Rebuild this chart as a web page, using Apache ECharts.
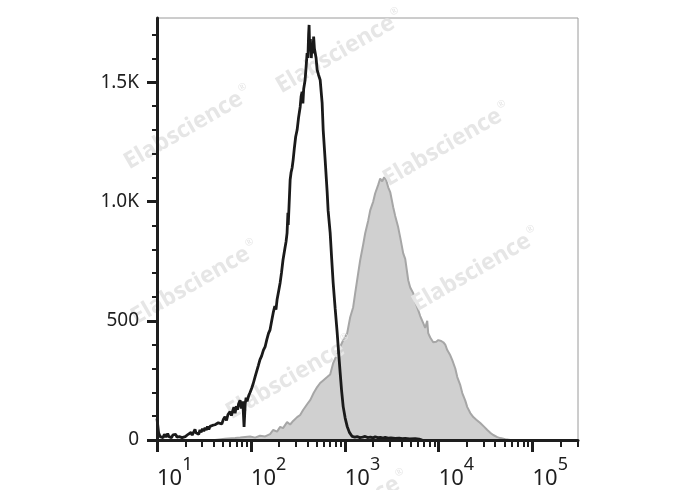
<!DOCTYPE html>
<html>
<head>
<meta charset="utf-8">
<script src="https://cdn.jsdelivr.net/npm/echarts@6/dist/echarts.min.js"></script>
<style>html,body{margin:0;padding:0;background:#fff;}#c{width:688px;height:490px;}</style>
</head>
<body>
<div id="c"></div>
<script>
// Fluorescence value (x) and event count (y) pairs
const isotypeX = [10,10.4,10.8,11.2,11.6,12,12.5,13,13.4,13.8,14.3,14.8,15.2,15.8,16.3,16.7,17.3,18,18.5,19.2,20,20.9,21.5,22,23,23.7,24.5,25.4,26,27,27.8,28.7,29.5,30.5,31.5,32.5,33.5,34.5,35.6,36.7,38,39.5,41.5,43,45,47,49,51,53,55,57,60,62,64,66,67.9,70,72,74,76.7,79,82,84.6,87,89,91.1,95,98,102,106,111,115,120,125,130,136,142,148,154,160,167,173,180,185,190,197,205,212,220,230,237,243,248,250,255,262,268,275,282,290,300,311,322,335,343,351,358,365,378,387,397,405,412,417,422,430,440,449,458,466,475,483,495,508,525,547,574,589,618,649,665,699,725,752,790,830,862,893,925,962,1010,1061,1120,1199,1280,1356,1450,1550,1650,1750,1880,2000,2109,2250,2400,2550,2696,2900,3100,3445,3800,4100,4404,4900,5627,6200,6683];
const isotypeY = [90,30,14,22,10,24,12,27,14,20,10,22,16,24,12,20,14,22,10,17,14,20,24,17,32,20,27,45,30,37,24,42,32,47,37,52,42,57,44,57,50,62,64,57,72,77,67,87,97,82,107,119,102,122,137,112,142,127,152,167,132,162,55,152,177,162,187,199,217,237,266,287,312,337,352,377,392,422,447,462,502,534,562,547,588,622,660,702,756,802,832,869,953,902,982,1092,1122,1142,1175,1222,1272,1301,1352,1397,1442,1460,1412,1472,1510,1562,1623,1602,1702,1741,1652,1682,1602,1665,1622,1692,1642,1648,1602,1552,1532,1510,1414,1301,1175,1042,962,869,762,660,552,450,362,283,207,140,92,57,32,15,12,14,10,12,15,10,12,9,13,10,11,8,11,8,9,7,8,6,7,5,6,4,0];

const stainedX = [41.5,53,68,77,98,111,125,142,160,173,190,205,220,243,262,282,311,335,360,397,430,466,508,547,589,649,699,752,830,893,962,1061,1142,1229,1291,1390,1459,1571,1650,1776,1866,2009,2109,2270,2384,2504,2630,2762,2902,3048,3281,3445,3708,3895,4194,4404,4742,4980,5360,5627,6060,6364,6852,7196,7556,7743,8130,8752,9421,9900,10660,11200,11760,12350,13300,13970,15040,15790,17000,17850,19210,20180,21730,23390,25180,27770,30620,32970,35490,38200,42150,45370,51290,57960];
const stainedY = [0,5,8,10,15,10,18,15,25,42,35,55,50,75,65,80,96,105,126,150,168,197,222,239,250,264,275,322,360,390,419,448,515,557,616,700,754,820,867,920,963,1000,1035,1070,1097,1085,1102,1090,1060,1040,976,940,892,850,783,760,670,640,616,580,545,520,490,470,500,448,430,410,412,419,415,410,400,377,355,335,300,264,230,197,165,138,113,96,85,71,55,42,30,21,12,8,3,0];

const xMajorTicks = [10,100,1000,10000,100000];
const xMajorExp = ['1','2','3','4','5'];
const xMinorTicks = [20,30,40,50,60,70,80,90,200,300,400,500,600,700,800,900,2000,3000,4000,5000,6000,7000,8000,9000,20000,30000,40000,50000,60000,70000,80000,90000,200000,300000];
const yMajorTicks = [0,500,1000,1500];
const yMajorLabels = ['0','500','1.0K','1.5K'];
const yMinorTicks = [100,200,300,400,600,700,800,900,1100,1200,1300,1400,1600,1700];
const watermarkText = 'Elabscience';

const chart = echarts.init(document.getElementById('c'));
const pair = (xs, ys) => xs.map((v, i) => [v, ys[i]]);

const wmPos = [[340,52],[188,128],[447,145],[195,283],[476,270],[290,378],[345,513]];
const graphics = wmPos.map(p => ({
  type: 'text', x: p[0], y: p[1], rotation: Math.PI / 6, z: 2,
  style: {
    text: '{a|' + watermarkText + '}{r|®}',
    fill: '#e6e6e6', align: 'center', verticalAlign: 'middle',
    rich: {
      a: {fontFamily: 'Open Sans', fontWeight: 'bold', fontSize: 23, fill: '#e6e6e6'},
      r: {fontFamily: 'Open Sans', fontSize: 10, fill: '#e6e6e6', verticalAlign: 'top', padding: [0,0,16,2]}
    }
  }
}));

const xBase = {
  type: 'log', logBase: 10, min: 10, max: 305000, gridIndex: 0, position: 'bottom',
  splitLine: {show: false}, z: 4
};

chart.setOption({
  animation: false,
  grid: {left: 157, right: 110, top: 18, bottom: 50, show: true, borderColor: '#9a9a9a', borderWidth: 1, backgroundColor: 'transparent'},
  graphic: graphics,
  xAxis: [
    Object.assign({}, xBase, {
      axisLine: {show: true, onZero: false, lineStyle: {color: '#1e1e1e', width: 3}},
      axisTick: {show: true, customValues: xMajorTicks, length: 12, lineStyle: {color: '#1e1e1e', width: 3}},
      axisLabel: {
        show: true, customValues: xMajorTicks, margin: 16, align: 'left',
        formatter: function (v) {
          const i = xMajorTicks.findIndex(t => Math.abs(t - v) / t < 1e-6);
          return '{b|10}{s|' + (i >= 0 ? xMajorExp[i] : '') + '}';
        },
        rich: {
          b: {fontFamily: 'Noto Sans', fontSize: 22, color: '#1e1e1e', verticalAlign: 'bottom', lineHeight: 34},
          s: {fontFamily: 'Noto Sans', fontSize: 18, color: '#1e1e1e', verticalAlign: 'top', lineHeight: 34}
        }
      }
    }),
    Object.assign({}, xBase, {
      axisLine: {show: false, onZero: false},
      axisTick: {show: true, customValues: xMinorTicks, length: 7, lineStyle: {color: '#1e1e1e', width: 2}},
      axisLabel: {show: false}
    })
  ],
  yAxis: [
    {
      type: 'value', min: 0, max: 1770, interval: 500, z: 4,
      splitLine: {show: false},
      axisLine: {show: true, onZero: false, lineStyle: {color: '#1e1e1e', width: 3}},
      axisTick: {show: true, customValues: yMajorTicks, length: 10, lineStyle: {color: '#1e1e1e', width: 3}},
      axisLabel: {
        show: true, customValues: yMajorTicks, margin: 18,
        fontFamily: 'Noto Sans', fontSize: 19, color: '#1e1e1e',
        formatter: function (v) {
          const i = yMajorTicks.indexOf(v);
          return i >= 0 ? yMajorLabels[i] : '';
        }
      }
    },
    {
      type: 'value', min: 0, max: 1770, position: 'left', z: 4,
      splitLine: {show: false},
      axisLine: {show: false, onZero: false},
      axisTick: {show: true, customValues: yMinorTicks, length: 5, lineStyle: {color: '#1e1e1e', width: 2}},
      axisLabel: {show: false}
    }
  ],
  series: [
    {
      name: 'stained', type: 'line', xAxisIndex: 0, yAxisIndex: 0, z: 1,
      data: pair(stainedX, stainedY), showSymbol: false, symbol: 'none',
      lineStyle: {color: '#a6a6a6', width: 2},
      areaStyle: {color: '#d0d0d0', opacity: 1}
    },
    {
      name: 'isotype', type: 'line', xAxisIndex: 0, yAxisIndex: 0, z: 3,
      data: pair(isotypeX, isotypeY), showSymbol: false, symbol: 'none',
      lineStyle: {color: '#1a1a1a', width: 2.8}
    }
  ]
});
</script>
</body>
</html>
